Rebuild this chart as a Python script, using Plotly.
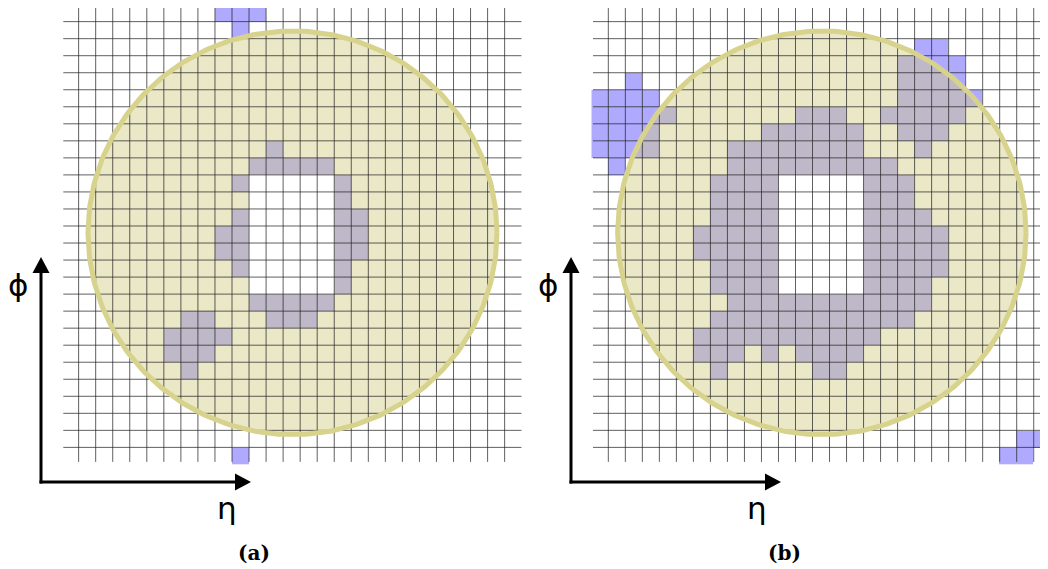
import numpy as np
import plotly.graph_objects as go

# ---------------- data ----------------
N_CELLS = 27
# blue cells per panel: {row: [columns]}  (row 0 = top)
left_blue = {
    0: [9, 10, 11],
    1: [10],
    8: [12],
    9: [11, 12, 13, 14, 15],
    10: [10, 16],
    11: [16],
    12: [10, 16, 17],
    13: [9, 10, 16, 17],
    14: [9, 10, 16, 17],
    15: [10, 16],
    16: [16],
    17: [11, 12, 13, 14, 15],
    18: [7, 8, 12, 13, 14],
    19: [6, 7, 8, 9],
    20: [6, 7, 8],
    21: [7],
    26: [10],
}
right_blue = {
    2: [19, 20],
    3: [18, 19, 20, 21],
    4: [2, 18, 19, 20, 21],
    5: [0, 1, 2, 3, 18, 19, 20, 21, 22],
    6: [0, 1, 2, 3, 4, 12, 13, 14, 17, 18, 19, 20, 21],
    7: [0, 1, 2, 3, 10, 11, 12, 13, 14, 15, 18, 19, 20],
    8: [0, 1, 2, 3, 8, 9, 10, 11, 12, 13, 14, 15, 19],
    9: [1, 8, 9, 10, 11, 12, 13, 14, 15, 16, 17],
    10: [7, 8, 9, 10, 16, 17, 18],
    11: [7, 8, 9, 10, 16, 17, 18],
    12: [7, 8, 9, 10, 16, 17, 18, 19],
    13: [6, 7, 8, 9, 10, 16, 17, 18, 19, 20],
    14: [6, 7, 8, 9, 10, 16, 17, 18, 19, 20],
    15: [7, 8, 9, 10, 16, 17, 18, 19, 20],
    16: [7, 8, 9, 10, 16, 17, 18, 19],
    17: [8, 9, 10, 11, 12, 13, 14, 15, 16, 17, 18, 19],
    18: [7, 8, 9, 10, 11, 12, 13, 14, 15, 16, 17, 18],
    19: [6, 7, 8, 9, 10, 11, 12, 13, 14, 15, 16],
    20: [6, 7, 8, 10, 12, 13, 14, 15],
    21: [7, 13, 14],
    25: [25, 26],
    26: [24, 25],
}
hole_rows = [10, 11, 12, 13, 14, 15, 16]
hole_cols = [11, 12, 13, 14, 15]
circle_center = (13.55, 13.4)
circle_radius = (12.0, 11.85)
panel_labels = ["(a)", "(b)"]
axis_labels = ["η", "ϕ"]

# ---------------- styles ----------------
# the page body has an 8px margin: the figure is offset by 8px on screen
OFF = 8
SCREEN_W = 1048
W, H = 1048, 561
BLUE = "#b0aaff"
FILL = "rgba(210,203,130,0.44)"
RING = "#d7d28c"
GRID = "rgba(35,35,35,0.72)"


def X(px):  # screen pixel -> paper
    return (px - OFF) / W


def Y(py):
    return 1 - (py - OFF) / H


# pixel geometry of the two panels (screen px): left edge, top edge, cell size
panels = [
    dict(px0=61.6, py0=4.6, cx=17.04, cy=17.03, blue=left_blue),
    dict(px0=591.3, py0=4.6, cx=17.016, cy=17.03, blue=right_blue),
]

fig = go.Figure()
centers = np.arange(N_CELLS) + 0.5
t = np.linspace(0, 2 * np.pi, 400)

for i, p in enumerate(panels):
    xa = "x" if i == 0 else "x2"
    ya = "y" if i == 0 else "y2"
    # blue cells
    zb = np.full((N_CELLS, N_CELLS), np.nan)
    for r, cols in p["blue"].items():
        for c in cols:
            zb[r, c] = 1
    fig.add_trace(go.Heatmap(x=centers, y=centers, z=zb, xaxis=xa, yaxis=ya,
                             colorscale=[[0, BLUE], [1, BLUE]], showscale=False,
                             hoverinfo="skip"))
    # circle fill
    cx, cy = circle_center
    rx, ry = circle_radius
    fig.add_trace(go.Scatter(x=cx + rx * np.cos(t), y=cy + ry * np.sin(t),
                             xaxis=xa, yaxis=ya, mode="lines", fill="toself",
                             fillcolor=FILL, line=dict(width=0),
                             hoverinfo="skip", showlegend=False))
    # white hole (cells drawn as filled polygons above the circle fill)
    hx, hy = [], []
    for r in hole_rows:
        for c in hole_cols:
            hx += [c, c + 1, c + 1, c, c, None]
            hy += [r, r, r + 1, r + 1, r, None]
    fig.add_trace(go.Scatter(x=hx, y=hy, xaxis=xa, yaxis=ya, mode="lines",
                             fill="toself", fillcolor="white",
                             line=dict(width=0.5, color="white"),
                             hoverinfo="skip", showlegend=False))
    # grid lines
    gx, gy = [], []
    for k in range(1, N_CELLS):
        gx += [k, k, None]
        gy += [0, 26.85, None]
        gx += [0.1, 27, None]
        gy += [k, k, None]
    fig.add_trace(go.Scatter(x=gx, y=gy, xaxis=xa, yaxis=ya, mode="lines",
                             line=dict(color=GRID, width=1), hoverinfo="skip",
                             showlegend=False))
    # ring
    fig.add_trace(go.Scatter(x=cx + rx * np.cos(t), y=cy + ry * np.sin(t),
                             xaxis=xa, yaxis=ya, mode="lines",
                             line=dict(color=RING, width=5),
                             hoverinfo="skip", showlegend=False))

    # axes domains (clipped to the visible window where needed)
    right_px = p["px0"] + N_CELLS * p["cx"]
    if right_px > SCREEN_W:
        xr = [0, (SCREEN_W - p["px0"]) / p["cx"]]
        dom_x = [X(p["px0"]), X(SCREEN_W)]
    else:
        xr = [0, N_CELLS]
        dom_x = [X(p["px0"]), X(right_px)]
    if p["py0"] < OFF:
        ytop = (OFF - p["py0"]) / p["cy"]
        dom_y = [Y(p["py0"] + N_CELLS * p["cy"]), 1.0]
    else:
        ytop = 0
        dom_y = [Y(p["py0"] + N_CELLS * p["cy"]), Y(p["py0"])]
    axx = dict(domain=dom_x, range=xr, visible=False, fixedrange=True)
    axy = dict(domain=dom_y, range=[N_CELLS, ytop], visible=False, fixedrange=True)
    if i == 0:
        fig.update_layout(xaxis=dict(axx, anchor="y"), yaxis=dict(axy, anchor="x"))
    else:
        fig.update_layout(xaxis2=dict(axx, anchor="y2"), yaxis2=dict(axy, anchor="x2"))

# ---------------- arrows and labels ----------------
shapes = []
annotations = []
for i, off in enumerate([0, 530]):
    ax0 = 41 + off
    ay0 = 482
    shapes.append(dict(type="line", xref="paper", yref="paper",
                       x0=X(ax0), y0=Y(ay0 + 1.5), x1=X(ax0), y1=Y(270),
                       line=dict(color="black", width=3)))
    shapes.append(dict(type="path", xref="paper", yref="paper",
                       path=f"M {X(ax0)},{Y(257)} L {X(ax0 - 8.5)},{Y(273)} L {X(ax0 + 8.5)},{Y(273)} Z",
                       fillcolor="black", line=dict(width=0)))
    shapes.append(dict(type="line", xref="paper", yref="paper",
                       x0=X(ax0 - 1.5), y0=Y(ay0), x1=X(237 + off), y1=Y(ay0),
                       line=dict(color="black", width=3)))
    shapes.append(dict(type="path", xref="paper", yref="paper",
                       path=f"M {X(251 + off)},{Y(ay0)} L {X(235 + off)},{Y(ay0 - 8.5)} L {X(235 + off)},{Y(ay0 + 8.5)} Z",
                       fillcolor="black", line=dict(width=0)))
    annotations.append(dict(text=axis_labels[1], x=X(18 + off), y=Y(285), xref="paper", yref="paper",
                            showarrow=False, xanchor="center", yanchor="middle",
                            font=dict(family="DejaVu Sans", size=31, color="black")))
    annotations.append(dict(text=axis_labels[0], x=X(227 + off), y=Y(508), xref="paper", yref="paper",
                            showarrow=False, xanchor="center", yanchor="middle",
                            font=dict(family="DejaVu Sans", size=31, color="black")))
    annotations.append(dict(text=f"<b>{panel_labels[i]}</b>", x=X(254 + off), y=Y(553),
                            xref="paper", yref="paper", showarrow=False,
                            xanchor="center", yanchor="middle",
                            font=dict(family="DejaVu Serif", size=20, color="black")))

fig.update_layout(width=W, height=H, margin=dict(l=0, r=0, t=0, b=0),
                  paper_bgcolor="white", plot_bgcolor="rgba(0,0,0,0)",
                  shapes=shapes, annotations=annotations, showlegend=False)
fig.write_html("out.html")
